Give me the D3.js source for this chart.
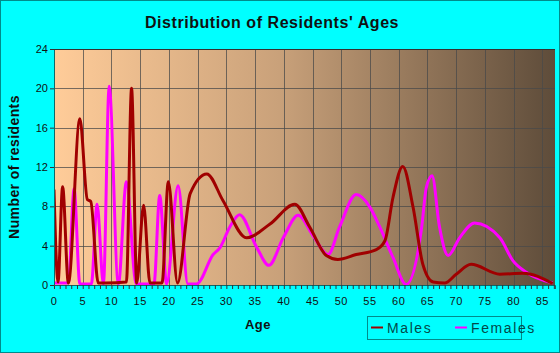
<!DOCTYPE html>
<html>
<head>
<meta charset="utf-8">
<script src="https://cdn.jsdelivr.net/npm/d3@7"></script>
<style>
  body { margin: 0; background: #00ffff; }
  svg { display: block; font-family: Arial, "Liberation Sans", sans-serif; }
</style>
</head>
<body>
<script>
var maleAges = [0, 0.7, 1.5, 2.5, 4.5, 5.8, 6.4, 7.7, 9, 12.6, 13.5, 14.4, 15.6, 16.7, 18.8, 19.9, 21.5, 23.7, 26.6, 29.4, 33.5, 37.6, 41.9, 44.5, 47.4, 49.4, 52.6, 56.1, 57.6, 59, 60.7, 62.5, 64.2, 66, 68, 70, 72.6, 77.6, 81.6, 86.8];
var maleValues = [9.7, 0.3, 10, 0.2, 16.9, 8.7, 8.5, 0.2, 0.2, 0.3, 20, 0.2, 8.1, 0.2, 0.2, 10.5, 0.2, 9.3, 11.3, 8.6, 4.8, 6.2, 8.2, 5.9, 3.0, 2.6, 3.1, 3.6, 4.5, 8.9, 12.05, 7.9, 2.1, 0.3, 0.2, 1.1, 2.1, 1.1, 1.2, 0.15];

var femaleAges = [0, 2.5, 3.5, 4.5, 6.5, 7.5, 8.6, 9.6, 11.2, 12.6, 14.3, 17.4, 18.4, 19.6, 21.6, 23.3, 24.8, 27.7, 28.9, 30.6, 32.3, 35.3, 37.4, 39.9, 42.5, 45.1, 47.7, 49.7, 52.6, 55, 56.7, 59, 61.3, 64, 64.8, 65.8, 67.1, 68.6, 70.6, 73.2, 77.6, 79.9, 82.2, 86.8];
var femaleValues = [0.2, 0.2, 9.8, 0.1, 0.1, 8.2, 0.1, 20.2, 0.1, 10.5, 0.1, 0.1, 9.1, 0.1, 10.1, 0.1, 0.1, 3.1, 3.8, 5.9, 7.15, 3.8, 2.0, 4.8, 7.1, 5.0, 3.1, 5.9, 9.2, 7.9, 5.9, 2.8, 0.05, 5.9, 9.9, 11.1, 5.9, 3.0, 4.8, 6.3, 4.8, 2.45, 1.3, 0.2];

var xTicks = d3.range(0, 86, 5);
var yTicks = [0, 4, 8, 12, 16, 20, 24];
var seriesNames = ["Males", "Females"];
var seriesColors = ["#a00000", "#ff00ff"];

var width = 560, height = 353;
var margin = {top: 49, right: 5, bottom: 68, left: 54};
var plotW = width - margin.left - margin.right;
var plotH = height - margin.top - margin.bottom;

var svg = d3.select("body").append("svg")
    .attr("width", width)
    .attr("height", height);

svg.append("rect")
    .attr("x", 0.5).attr("y", 0.5)
    .attr("width", width - 1).attr("height", height - 1)
    .attr("fill", "#00ffff")
    .attr("stroke", "#008b8b");

var defs = svg.append("defs");
var grad = defs.append("linearGradient").attr("id", "bg").attr("x1", 0).attr("x2", 1).attr("y1", 0).attr("y2", 0);
grad.append("stop").attr("offset", "0%").attr("stop-color", "#ffcc99");
grad.append("stop").attr("offset", "45%").attr("stop-color", "#c9a17a");
grad.append("stop").attr("offset", "100%").attr("stop-color", "#5e4c3a");
defs.append("clipPath").attr("id", "clip")
    .append("rect").attr("width", plotW).attr("height", plotH);

var x = d3.scaleLinear().domain([0, 87.2]).range([0, plotW]);
var y = d3.scaleLinear().domain([0, 24]).range([plotH, 0]);

var g = svg.append("g").attr("transform", "translate(" + margin.left + "," + margin.top + ")");

g.append("rect")
    .attr("width", plotW).attr("height", plotH)
    .attr("fill", "url(#bg)");

// grid
g.selectAll(".vgrid").data(xTicks.slice(1))
    .enter().append("line")
    .attr("x1", d => Math.round(x(d)) + 0.5).attr("x2", d => Math.round(x(d)) + 0.5)
    .attr("y1", 0).attr("y2", plotH)
    .attr("stroke", "#4a4a4a").attr("stroke-opacity", 0.75);
g.selectAll(".hgrid").data(yTicks.slice(1))
    .enter().append("line")
    .attr("x1", 0).attr("x2", plotW)
    .attr("y1", d => Math.round(y(d)) + 0.5).attr("y2", d => Math.round(y(d)) + 0.5)
    .attr("stroke", "#4a4a4a").attr("stroke-opacity", 0.75);

// lines
var line = d3.line()
    .x(d => x(d[0]))
    .y(d => y(d[1]))
    .curve(d3.curveMonotoneX);

var series = [
    d3.zip(maleAges, maleValues),
    d3.zip(femaleAges, femaleValues)
];

var lines = g.append("g").attr("clip-path", "url(#clip)");
[1, 0].forEach(function(i) {
    lines.append("path")
        .datum(series[i])
        .attr("d", line)
        .attr("fill", "none")
        .attr("stroke", seriesColors[i])
        .attr("stroke-width", 3)
        .attr("stroke-linejoin", "round");
});

// axes
var xAxis = g.append("g")
    .attr("transform", "translate(0," + plotH + ")")
    .call(d3.axisBottom(x).tickValues(d3.range(0, 88, 1)).tickSize(4).tickFormat(""));
xAxis.select(".domain").attr("stroke", "#0a6b6b");
xAxis.selectAll(".tick line").attr("stroke", "#333");

g.selectAll(".xlab").data(xTicks)
    .enter().append("text")
    .attr("x", d => x(d))
    .attr("y", plotH + 20)
    .attr("text-anchor", "middle")
    .attr("font-size", 11)
    .attr("letter-spacing", 0.5)
    .attr("fill", "#111")
    .text(d => d);

var yAxis = g.append("g")
    .call(d3.axisLeft(y).tickValues(yTicks).tickSize(4).tickFormat(d => d));
yAxis.select(".domain").attr("stroke", "#0a6b6b");
yAxis.selectAll(".tick line").attr("stroke", "#333");
yAxis.selectAll(".tick text").attr("font-size", 11).attr("fill", "#111").attr("font-family", "Arial, sans-serif").attr("x", -6);

g.append("line")
    .attr("x1", 0).attr("x2", plotW).attr("y1", 0.5).attr("y2", 0.5)
    .attr("stroke", "#333");

// title and labels
svg.append("text")
    .attr("x", 272).attr("y", 28)
    .attr("text-anchor", "middle")
    .attr("font-size", 16)
    .attr("font-weight", "bold")
    .attr("letter-spacing", 0.55)
    .attr("fill", "#111")
    .text("Distribution of Residents' Ages");

svg.append("text")
    .attr("transform", "translate(19," + (margin.top + plotH / 2) + ") rotate(-90)")
    .attr("text-anchor", "middle")
    .attr("font-size", 14)
    .attr("font-weight", "bold")
    .attr("letter-spacing", 0.4)
    .attr("fill", "#111")
    .text("Number of residents");

svg.append("text")
    .attr("x", 258).attr("y", 329)
    .attr("text-anchor", "middle")
    .attr("font-size", 13)
    .attr("font-weight", "bold")
    .attr("letter-spacing", 0.5)
    .attr("fill", "#111")
    .text("Age");

// legend
var legend = svg.append("g").attr("transform", "translate(368,317)");
legend.append("rect")
    .attr("x", -0.5).attr("y", -0.5)
    .attr("width", 154).attr("height", 23)
    .attr("fill", "none").attr("stroke", "#008b8b");
var legX = [3, 87];
seriesNames.forEach(function(name, i) {
    legend.append("line")
        .attr("x1", legX[i]).attr("x2", legX[i] + 12)
        .attr("y1", 10.5).attr("y2", 10.5)
        .attr("stroke", seriesColors[i]).attr("stroke-width", 2);
    legend.append("text")
        .attr("x", legX[i] + 16).attr("y", 16)
        .attr("font-size", 14)
        .attr("letter-spacing", 1.6)
        .attr("fill", "#024a4a")
        .text(name);
});
</script>
</body>
</html>
